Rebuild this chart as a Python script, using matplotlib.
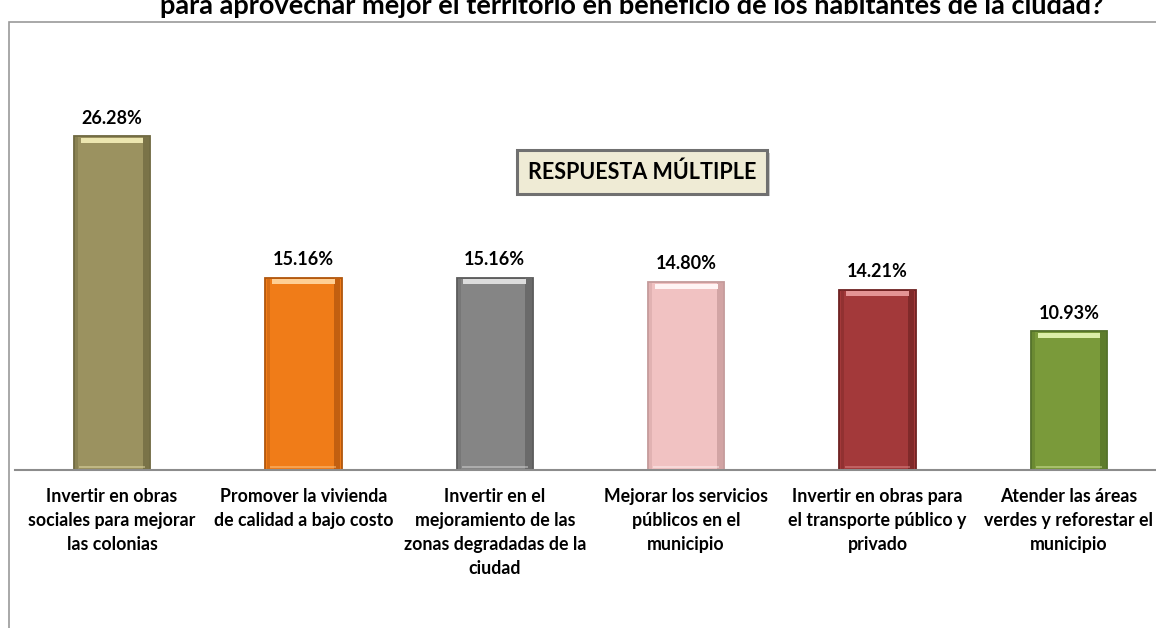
import matplotlib.pyplot as plt
import matplotlib.patheffects as pe
from matplotlib.patches import Rectangle
import numpy as np

categorias = [
    "Invertir en obras\nsociales para mejorar\nlas colonias",
    "Promover la vivienda\nde calidad a bajo costo",
    "Invertir en el\nmejoramiento de las\nzonas degradadas de la\nciudad",
    "Mejorar los servicios\npúblicos en el\nmunicipio",
    "Invertir en obras para\nel transporte público y\nprivado",
    "Atender las áreas\nverdes y reforestar el\nmunicipio",
]
porcentajes = [26.28, 15.16, 15.16, 14.80, 14.21, 10.93]
colores = ["#9b9260", "#f07c18", "#858585", "#f1c2c2", "#a3393a", "#7a9a3a"]
bordes = ["#6e6840", "#b0560c", "#5a5a5a", "#c49a9a", "#6e2222", "#53702a"]
brillos = ["#ece6b0", "#ffcf94", "#dcdcdc", "#fff4f4", "#e49494", "#dcefa8"]
sombras = ["#7a7348", "#c25f10", "#6a6a6a", "#d2a4a4", "#802a2a", "#5e7c2c"]

titulo = "para aprovechar mejor el territorio en beneficio de los habitantes de la ciudad?"
nota = "RESPUESTA MÚLTIPLE"

plt.rcParams["font.family"] = ["Lato", "DejaVu Sans"]
plt.rcParams["font.weight"] = "bold"

W, H = 1156, 628
fig = plt.figure(figsize=(W / 100, H / 100), dpi=100)

# marco del gráfico
marco = Rectangle((9 / W, -0.1), 1.2, (H - 22) / H + 0.1, transform=fig.transFigure,
                  facecolor="none", edgecolor="#9a9a9a", linewidth=1.2, zorder=-1)
fig.add_artist(marco)

fig.text(632 / W, 1 - 14 / H, titulo, ha="center", va="baseline", fontsize=19.5,
         fontweight="bold", color="black")

ax = fig.add_axes([15 / W, (H - 470) / H, (W - 15) / W, (470 - 22) / H])
ax.set_facecolor("none")
x = np.arange(len(porcentajes))
ancho = 0.40
tope = np.array(porcentajes)

ax.bar(x, porcentajes, width=ancho, color=colores, edgecolor=bordes, linewidth=1.3, zorder=2)
# biseles: borde derecho oscuro, franja clara arriba, reflejo abajo
ax.bar(x + ancho * 0.44, tope - 0.1, width=ancho * 0.08, bottom=0.05, color=sombras,
       linewidth=0, zorder=3)
ax.bar(x - ancho * 0.46, tope - 0.1, width=ancho * 0.04, bottom=0.05, color=sombras,
       alpha=0.5, linewidth=0, zorder=3)
ax.bar(x, [0.38] * len(x), width=ancho * 0.82, bottom=tope - 0.5,
       color=brillos, linewidth=0, zorder=4)
ax.bar(x, [0.22] * len(x), width=ancho * 0.86, bottom=0.12, color=brillos, alpha=0.45,
       linewidth=0, zorder=4)

for xi, v in zip(x, porcentajes):
    ax.annotate(f"{v:.2f}%", (xi, v), xytext=(0, 7), textcoords="offset points",
                ha="center", va="bottom", fontsize=13, fontweight="bold")

ax.set_xlim(-0.507, 5.455)
ax.set_ylim(0, 35.3)
for s in ["top", "right", "left"]:
    ax.spines[s].set_visible(False)
ax.spines["bottom"].set_color("#8c8c8c")
ax.spines["bottom"].set_linewidth(1.5)
ax.set_yticks([])
ax.set_xticks(x)
ax.set_xticklabels(categorias, fontsize=12.8, fontweight="bold", linespacing=1.5)
ax.tick_params(axis="x", length=0, pad=13)

caja = ax.text(642 / W, 1 - 172 / H, nota, transform=fig.transFigure, ha="center",
               va="center", fontsize=15.5, fontweight="bold",
               bbox=dict(boxstyle="square,pad=0.5", facecolor="#efebd5", edgecolor="#707070",
                         linewidth=2.2))
caja.get_bbox_patch().set_path_effects(
    [pe.SimplePatchShadow(offset=(2, -2), shadow_rgbFace="#bdbdbd", alpha=0.8), pe.Normal()])

fig.savefig("out.png", dpi=100)
